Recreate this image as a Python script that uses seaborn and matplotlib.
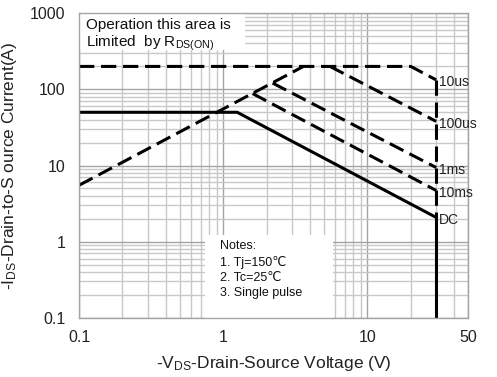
import matplotlib
matplotlib.use("Agg")
import matplotlib.pyplot as plt
from matplotlib.patches import Rectangle
import seaborn as sns

# SOA limit lines (V in volts, I in amps)
rds_v = [0.1, 3.6]
rds_i = [5.5, 200]
us10_v = [0.1, 20, 30]
us10_i = [200, 200, 133]
us100_v = [5.5, 30]
us100_i = [200, 38]
ms1_v = [2.2, 30]
ms1_i = [121, 9.4]
ms10_v = [1.6, 30]
ms10_i = [88, 4.7]
dc_v = [0.1, 1.25, 30]
dc_i = [50, 50, 2.08]
vmax_dash_v = [30, 30]
vmax_dash_i = [133, 2.08]
vmax_solid_v = [30, 30]
vmax_solid_i = [2.08, 0.1]

curve_labels = ["10us", "100us", "1ms", "10ms", "DC"]
curve_label_i = [133, 38, 9.4, 4.7, 2.08]

x_ticks = [0.1, 1, 10, 50]
x_ticklabels = ["0.1", "1", "10", "50"]
y_ticks = [0.1, 1, 10, 100, 1000]
y_ticklabels = ["0.1", "1", "10", "100", "1000"]

sns.set_theme(style="white")
plt.rcParams['font.family'] = ['Liberation Sans', 'DejaVu Sans']
plt.rcParams['mathtext.fontset'] = 'custom'
plt.rcParams['mathtext.rm'] = 'Liberation Sans'
plt.rcParams['mathtext.it'] = 'Liberation Sans:italic'

fig = plt.figure(figsize=(4.97, 3.77), dpi=100)
ax = fig.add_axes([0.159, 0.157, 0.783, 0.808])
ax.set_xscale('log')
ax.set_yscale('log')
ax.set_xlim(0.1, 50)
ax.set_ylim(0.1, 1000)

ax.grid(True, which='minor', color='#c8c8c8', linewidth=1.0)
ax.grid(True, which='major', color='#a4a4a4', linewidth=1.0)
ax.set_axisbelow(True)
for s in ax.spines.values():
    s.set_color('#a4a4a4')
    s.set_linewidth(1.0)

# white boxes that hide the grid behind the notes
ax.add_patch(Rectangle((0.0, 0.879), 0.427, 0.121, transform=ax.transAxes,
                       facecolor='white', edgecolor='none', zorder=1.5))
ax.add_patch(Rectangle((0.324, 0.0), 0.329, 0.272, transform=ax.transAxes,
                       facecolor='white', edgecolor='none', zorder=1.5))

dash = (5, 2.2)
lw = 2.2
for xs, ys in [(rds_v, rds_i), (us10_v, us10_i), (us100_v, us100_i),
               (ms1_v, ms1_i), (ms10_v, ms10_i), (vmax_dash_v, vmax_dash_i)]:
    sns.lineplot(x=xs, y=ys, sort=False, estimator=None, color='black',
                 linewidth=lw, ax=ax).lines[-1].set_dashes(dash)
for xs, ys in [(dc_v, dc_i), (vmax_solid_v, vmax_solid_i)]:
    sns.lineplot(x=xs, y=ys, sort=False, estimator=None, color='black',
                 linewidth=lw, ax=ax)

for lab, iy in zip(curve_labels, curve_label_i):
    ax.text(31.5, iy * 0.93, lab, fontsize=10, va='center', ha='left',
            color='#222222')

ax.text(0.018, 0.985, "Operation this area is\nLimited  by R$_{\\mathrm{DS(ON)}}$",
        transform=ax.transAxes, fontsize=11, va='top', ha='left',
        linespacing=1.15, color='#111111', zorder=3)
ax.text(0.363, 0.255, "Notes:\n1. Tj=150℃\n2. Tc=25℃\n3. Single pulse",
        transform=ax.transAxes, fontsize=9, va='top', ha='left',
        linespacing=1.35, color='#111111', zorder=3)

ax.set_xticks(x_ticks)
ax.set_xticklabels(x_ticklabels)
ax.set_yticks(y_ticks)
ax.set_yticklabels(y_ticklabels)
ax.tick_params(axis='both', which='both', length=0, labelsize=11.5,
               colors='#222222')
ax.tick_params(axis='x', pad=9)
ax.tick_params(axis='y', pad=10)

ax.set_xlabel("-V$_{\\mathrm{DS}}$-Drain-Source Voltage (V)", fontsize=12.5,
              color='#222222', labelpad=6)
ax.set_ylabel("-I$_{\\mathrm{DS}}$-Drain-to-S ource Current(A)", fontsize=12.5,
              color='#222222', labelpad=8)

fig.savefig("out.png", dpi=100)
